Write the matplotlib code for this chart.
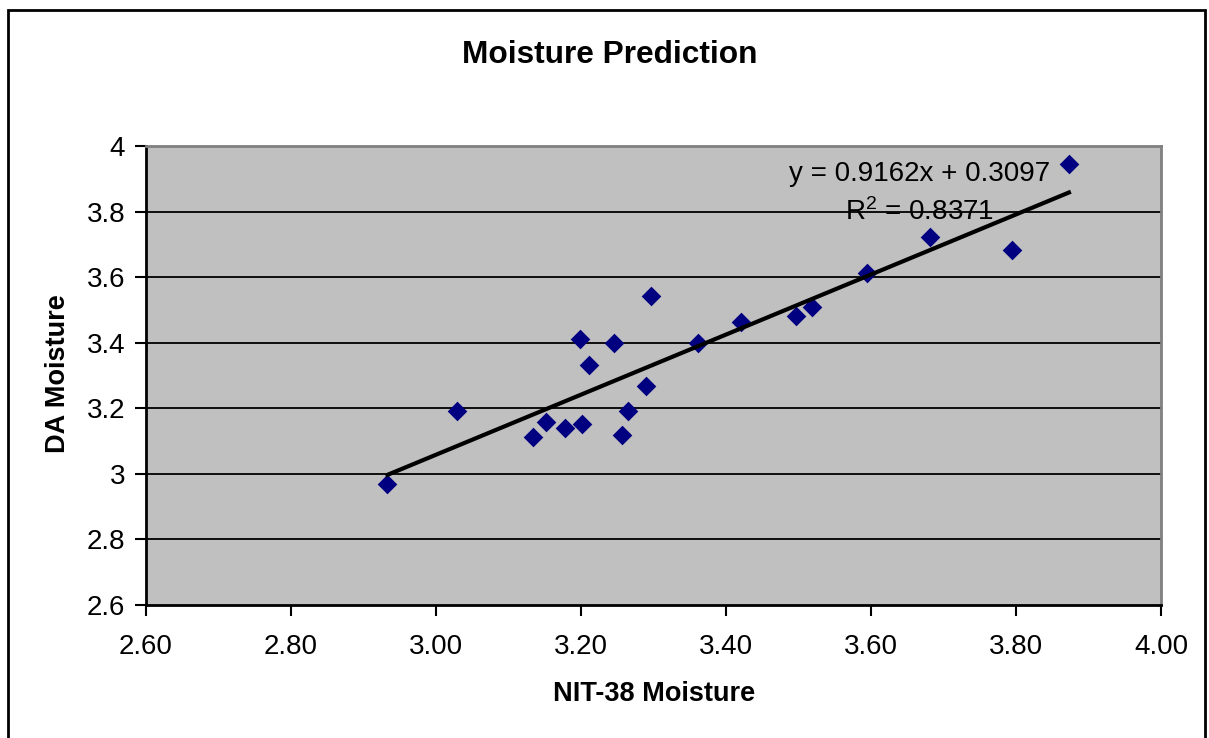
import matplotlib.pyplot as plt
from matplotlib.patches import Rectangle

plt.rcParams['font.family'] = ['Liberation Sans', 'DejaVu Sans']

nit38 = [2.933, 3.029, 3.134, 3.152, 3.178, 3.199, 3.202, 3.211, 3.246, 3.257, 3.265,
         3.290, 3.296, 3.361, 3.420, 3.496, 3.519, 3.595, 3.682, 3.794, 3.873]
da = [2.969, 3.191, 3.112, 3.158, 3.140, 3.411, 3.152, 3.332, 3.399, 3.118, 3.191,
      3.268, 3.542, 3.399, 3.463, 3.481, 3.509, 3.612, 3.722, 3.682, 3.945]
slope = 0.9162
intercept = 0.3097
r2 = 0.8371
x_ticks = [2.60, 2.80, 3.00, 3.20, 3.40, 3.60, 3.80, 4.00]
y_ticks = [2.6, 2.8, 3.0, 3.2, 3.4, 3.6, 3.8, 4.0]

fig = plt.figure(figsize=(12.09, 7.38), dpi=100)
fig.patches.append(Rectangle((8 / 1209, -0.05), 1197 / 1209, 1.05 - 10 / 738,
                             transform=fig.transFigure, fill=False,
                             edgecolor='black', linewidth=2))
ax = fig.add_axes([146 / 1209, 1 - 605 / 738, 1015 / 1209, 459 / 738])
ax.set_facecolor('#C0C0C0')

for yv in y_ticks[1:-1]:
    ax.axhline(yv, color='black', linewidth=1.3, zorder=1)

# points first, trendline drawn over them like in Excel
ax.scatter(nit38, da, marker='D', s=100, color='#000080', zorder=2, linewidths=0)
xs = [min(nit38), max(nit38)]
ax.plot(xs, [slope * v + intercept for v in xs], color='black', linewidth=3, zorder=3)

ax.set_xlim(2.6, 4.0)
ax.set_ylim(2.6, 4.0)
ax.set_xticks(x_ticks)
ax.set_xticklabels(['%.2f' % v for v in x_ticks])
ax.set_yticks(y_ticks)
ax.set_yticklabels(['%g' % v for v in y_ticks])
ax.tick_params(axis='both', labelsize=20, direction='out', length=8, width=1.5)
ax.tick_params(axis='x', pad=13)
ax.tick_params(axis='y', pad=7)

for side in ['top', 'right']:
    ax.spines[side].set_color('#808080')
    ax.spines[side].set_linewidth(2)
for side in ['left', 'bottom']:
    ax.spines[side].set_linewidth(2)

ax.text(0.762, 0.94, 'y = %.4fx + %.4f' % (slope, intercept), transform=ax.transAxes,
        ha='center', va='center', fontsize=20, zorder=4)
ax.text(0.762, 0.856, '$\\mathregular{R^2}$ = %.4f' % r2, transform=ax.transAxes,
        ha='center', va='center', fontsize=20, zorder=4)

fig.text(610 / 1209, 1 - 55 / 738, 'Moisture Prediction', ha='center', va='center',
         fontsize=22.8, fontweight='bold')
fig.text(654 / 1209, 1 - 694 / 738, 'NIT-38 Moisture', ha='center', va='center',
         fontsize=19.5, fontweight='bold')
fig.text(58 / 1209, 1 - 374 / 738, 'DA Moisture', ha='center', va='center',
         fontsize=19.5, fontweight='bold', rotation=90)

fig.savefig('out.png', dpi=100)
